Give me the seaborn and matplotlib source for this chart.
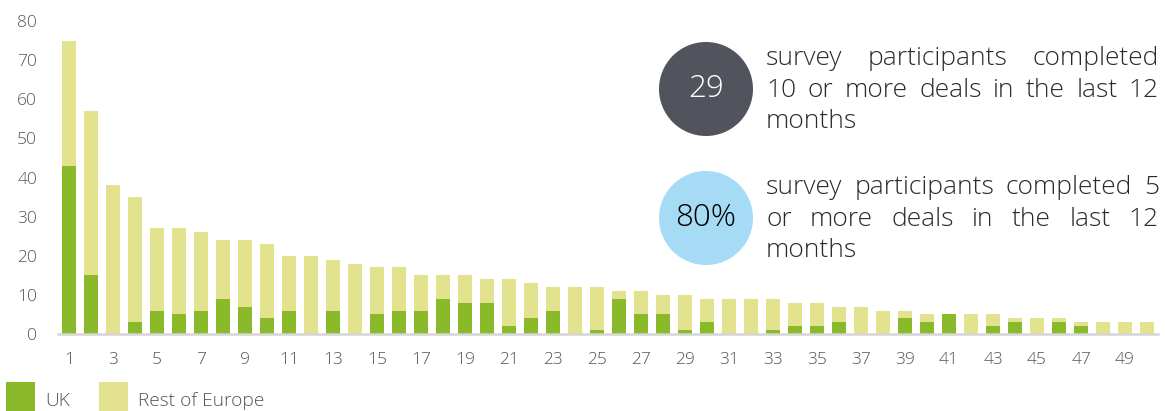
import numpy as np
import pandas as pd
import seaborn as sns
import matplotlib.pyplot as plt
from matplotlib.patches import Circle, Rectangle
from matplotlib.transforms import IdentityTransform

# Number of deals completed per participant (ranked), split by region
deals = list(range(1, 51))
uk = [43, 15, 0, 3, 6, 5, 6, 9, 7, 4,
      6, 0, 6, 0, 5, 6, 6, 9, 8, 8,
      2, 4, 6, 0, 1, 9, 5, 5, 1, 3,
      0, 0, 1, 2, 2, 3, 0, 0, 4, 3,
      5, 0, 2, 3, 0, 3, 2, 0, 0, 0]
rest_of_europe = [32, 42, 38, 32, 21, 22, 20, 15, 17, 19,
                  14, 20, 13, 18, 12, 11, 9, 6, 7, 6,
                  12, 9, 6, 12, 11, 2, 6, 5, 9, 6,
                  9, 9, 8, 6, 6, 4, 7, 6, 2, 2,
                  0, 5, 3, 1, 4, 1, 1, 3, 3, 3]
y_ticks = [0, 10, 20, 30, 40, 50, 60, 70, 80]
x_tick_labels = [str(d) for d in deals[::2]]
series_names = ["UK", "Rest of Europe"]

callouts = [
    ("29", ["survey participants completed", "10 or more deals in the last 12", "months"]),
    ("80%", ["survey participants completed 5", "or more deals in the last 12", "months"]),
]

GREEN = "#8aba2a"
LIGHT = "#e3e38f"
DARK_CIRCLE = "#51545c"
BLUE_CIRCLE = "#a6dbf5"
TEXT = "#2a2a2a"
TICK = "#555555"
FONT = "Open Sans"

sns.set_theme(style="white")
plt.rcParams["font.family"] = [FONT, "DejaVu Sans"]

df = pd.DataFrame({"deals": deals, "uk": uk, "rest": rest_of_europe})
df["total"] = df["uk"] + df["rest"]

W, H = 1165, 411
fig = plt.figure(figsize=(W / 100, H / 100), dpi=100)
ax = fig.add_axes([58 / W, (H - 334) / H, 1100 / W, (334 - 21) / H])

sns.barplot(data=df, x="deals", y="total", color=LIGHT, width=0.64,
            saturation=1, ax=ax, linewidth=0)
sns.barplot(data=df, x="deals", y="uk", color=GREEN, width=0.64,
            saturation=1, ax=ax, linewidth=0)

ax.set_xlim(-0.5, len(deals) - 0.5)
ax.set_ylim(0, 80)
ax.set_yticks(y_ticks)
ax.set_yticklabels([str(v) for v in y_ticks])
ax.set_xticks(range(0, len(deals), 2))
ax.set_xticklabels(x_tick_labels)
ax.set_xlabel("")
ax.set_ylabel("")
ax.tick_params(axis="y", length=0, pad=15, labelsize=12.5, labelcolor=TICK)
ax.tick_params(axis="x", length=0, pad=13, labelsize=12.5, labelcolor=TICK)
for lab in ax.get_xticklabels() + ax.get_yticklabels():
    lab.set_fontweight("light")
for side in ["left", "right", "top"]:
    ax.spines[side].set_visible(False)
ax.spines["bottom"].set_color("#d5d5d5")
ax.spines["bottom"].set_linewidth(1.8)
ax.set_facecolor("none")

# Legend swatches along the bottom edge
px = IdentityTransform()
legend_items = [(GREEN, series_names[0], 6, 45), (LIGHT, series_names[1], 99, 138)]
for color, label, sx, tx in legend_items:
    fig.add_artist(Rectangle((sx, 0), 29, 29, transform=px, facecolor=color,
                             edgecolor="none"))
    fig.text(tx, 10, label, transform=px, fontsize=13.8, color=TICK,
             fontweight="light", va="center", ha="left")

# Callout circles with justified descriptions
renderer = fig.canvas.get_renderer()
circle_centers = [(706, H - 89), (706, H - 218)]
circle_colors = [(DARK_CIRCLE, "white"), (BLUE_CIRCLE, "black")]
text_left, text_right = 766, 1159
body_size = 19.0
line_step = 31.5
for (figure_text, lines), (cx, cy), (fc, tc) in zip(callouts, circle_centers, circle_colors):
    fig.add_artist(Circle((cx, cy), 47, transform=px, facecolor=fc, edgecolor="none"))
    fig.text(cx, cy, figure_text, transform=px, fontsize=22.5, color=tc,
             fontweight="light", ha="center", va="center")
    base = cy + 24
    for i, line in enumerate(lines):
        yb = base - i * line_step
        words = line.split(" ")
        objs = [fig.text(0, yb, w, transform=px, fontsize=body_size, color=TEXT,
                         fontweight="light", ha="left", va="baseline")
                for w in words]
        widths = [o.get_window_extent(renderer).width for o in objs]
        if i < len(lines) - 1 and len(words) > 1:
            gap = (text_right - text_left - sum(widths)) / (len(words) - 1)
        else:
            space = fig.text(0, 0, "a a", fontsize=body_size, fontweight="light")
            aa = fig.text(0, 0, "aa", fontsize=body_size, fontweight="light")
            gap = space.get_window_extent(renderer).width - aa.get_window_extent(renderer).width
            space.remove()
            aa.remove()
        x = text_left
        for o, w in zip(objs, widths):
            o.set_x(x)
            x += w + gap

fig.savefig("out.png", dpi=100)
